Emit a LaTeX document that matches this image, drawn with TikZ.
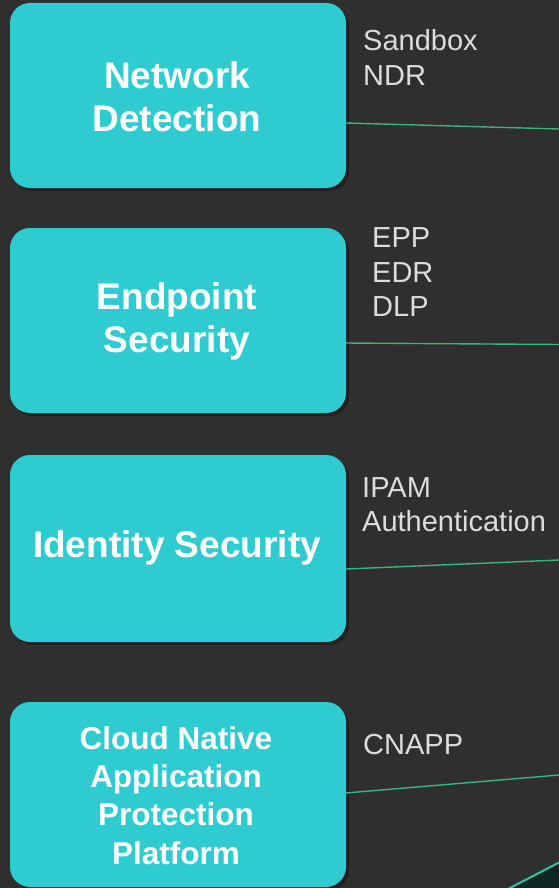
\documentclass[tikz,border=0pt]{standalone}
\usepackage{fontspec}
\setmainfont{Liberation Sans}
\usetikzlibrary{shadows,calc}
\definecolor{bg}{HTML}{2F2F2F}
\definecolor{boxfill}{HTML}{2ECBD1}
\definecolor{lbl}{HTML}{DCDCDC}
\definecolor{conn}{HTML}{3AB57E}
\definecolor{edge}{HTML}{2EC4A6}
\definecolor{darkfill}{HTML}{0E2724}
\tikzset{
  box/.style={rectangle, rounded corners=20pt, fill=boxfill, draw=none,
    minimum width=336pt, inner sep=0pt,
    drop shadow={shadow xshift=3pt, shadow yshift=-3pt, opacity=0.3, fill=black}},
  btext/.style={text=white, align=center, inner sep=0pt,
    font=\fontsize{37}{43}\selectfont\bfseries},
  btextsm/.style={text=white, align=center, inner sep=0pt,
    font=\fontsize{31.5}{38.3}\selectfont\bfseries},
  lab/.style={anchor=base west, text=lbl, inner sep=0pt,
    font=\fontsize{29}{34.7}\selectfont},
  connline/.style={draw=conn, line width=1.4pt},
}
\begin{document}
\begin{tikzpicture}[x=1pt,y=-1pt]
\fill[bg] (0,0) rectangle (559,888);
\useasboundingbox (0,0) rectangle (559,888);

% boxes
\node[box, minimum height=185pt] (b1) at (178,95.5) {};
\node[box, minimum height=185pt] (b2) at (178,320.5) {};
\node[box, minimum height=187pt] (b3) at (178,548.5) {};
\node[box, minimum height=185pt] (b4) at (178,794.5) {};

% box texts
\node[btext] (b1t) at ($(b1.center)+(-1,1)$) {Network\\Detection};
\node[btext] (b2t) at ($(b2.center)+(-1,1)$) {Endpoint\\Security};
\node[btext] (b3t) at ($(b3.center)+(-1,-1)$) {Identity Security};
\node[btextsm] (b4t) at ($(b4.center)+(-2,1)$) {Cloud Native\\Application\\Protection\\Platform};

% labels
\node[lab] (l1a) at (363,50.5) {Sandbox};
\node[lab] (l1b) at (363,85.5) {NDR};
\node[lab] (l2a) at (372,247.3) {EPP};
\node[lab] (l2b) at (372,282.3) {EDR};
\node[lab] (l2c) at (372,316.7) {DLP};
\node[lab] (l3a) at (362,497) {IPAM};
\node[lab] (l3b) at (362,531.5) {Authentication};
\node[lab] (l4a) at (363,754.5) {CNAPP};

% connector end points
\coordinate (s1) at (346,123);
\coordinate (e1) at (559,129);
\coordinate (s2) at (346,343);
\coordinate (e2) at (559,344.5);
\coordinate (s3) at (346,569);
\coordinate (e3) at (559,560);
\coordinate (s4) at (346,793);
\coordinate (e4) at (559,775);
\draw[connline] (s1) -- (e1);
\draw[connline] (s2) -- (e2);
\draw[connline] (s3) -- (e3);
\draw[connline] (s4) -- (e4);

% bottom-right corner shape
\coordinate (c1) at (508,889);
\coordinate (c2) at (560,862);
\coordinate (c3) at (560,889);
\fill[darkfill] (c1) -- (c2) -- (c3) -- cycle;
\draw[edge, line width=2pt] (c1) -- (c2);
\end{tikzpicture}
\end{document}
